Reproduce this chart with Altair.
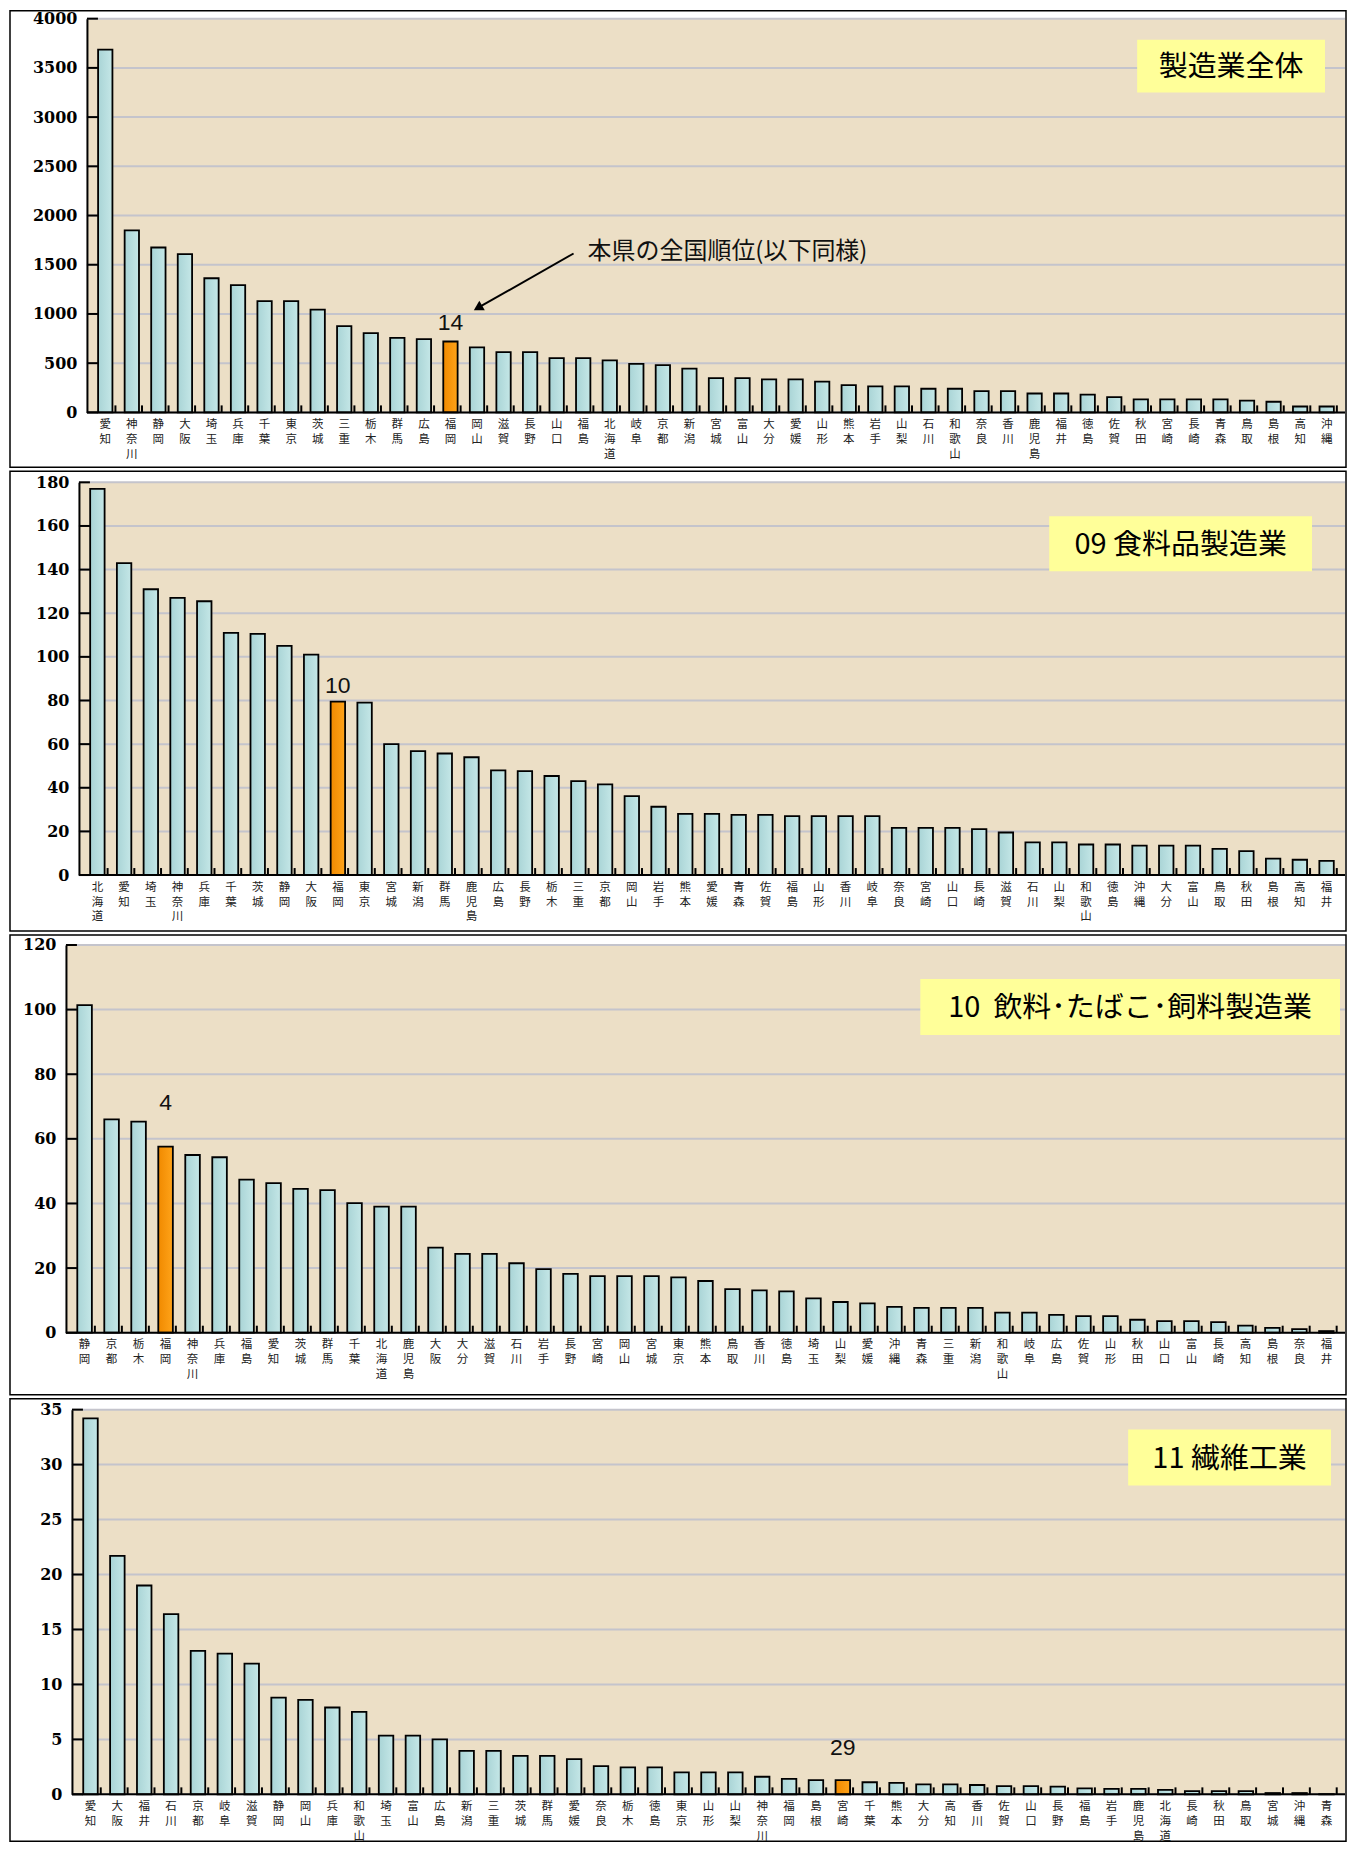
import altair as alt
import pandas as pd

# ---------------- data ----------------
prefs_all = ["愛知","神奈川","静岡","大阪","埼玉","兵庫","千葉","東京","茨城","三重","栃木","群馬","広島","福岡","岡山","滋賀","長野","山口","福島","北海道","岐阜","京都","新潟","宮城","富山","大分","愛媛","山形","熊本","岩手","山梨","石川","和歌山","奈良","香川","鹿児島","福井","徳島","佐賀","秋田","宮崎","長崎","青森","鳥取","島根","高知","沖縄"]
vals_all = [3685,1850,1675,1607,1363,1292,1130,1130,1045,877,805,757,745,720,660,612,612,552,552,528,492,480,444,348,348,336,336,312,276,264,264,240,240,216,216,192,192,180,156,132,132,132,132,120,108,60,60]
ticks_all = [0,500,1000,1500,2000,2500,3000,3500,4000]

prefs_food = ["北海道","愛知","埼玉","神奈川","兵庫","千葉","茨城","静岡","大阪","福岡","東京","宮城","新潟","群馬","鹿児島","広島","長野","栃木","三重","京都","岡山","岩手","熊本","愛媛","青森","佐賀","福島","山形","香川","岐阜","奈良","宮崎","山口","長崎","滋賀","石川","山梨","和歌山","徳島","沖縄","大分","富山","鳥取","秋田","島根","高知","福井"]
vals_food = [177,143,131,127,125.5,111,110.5,105,101,79.5,79,60,56.8,55.7,54,48,47.6,45.4,43,41.6,36.2,31.3,28,28,27.6,27.6,27,27,27,27,21.6,21.6,21.6,21,19.5,15,15,14,14,13.5,13.5,13.5,12,11,7.5,7,6.5]
ticks_food = [0,20,40,60,80,100,120,140,160,180]

prefs_bev = ["静岡","京都","栃木","福岡","神奈川","兵庫","福島","愛知","茨城","群馬","千葉","北海道","鹿児島","大阪","大分","滋賀","石川","岩手","長野","宮崎","岡山","宮城","東京","熊本","鳥取","香川","徳島","埼玉","山梨","愛媛","沖縄","青森","三重","新潟","和歌山","岐阜","広島","佐賀","山形","秋田","山口","富山","長崎","高知","島根","奈良","福井"]
vals_bev = [101.4,66,65.3,57.6,55,54.3,47.4,46.3,44.5,44.1,40.1,39,39,26.3,24.4,24.4,21.5,19.7,18.2,17.5,17.5,17.5,17.1,16,13.5,13.1,12.8,10.6,9.5,9.1,8,7.7,7.7,7.7,6.2,6.2,5.5,5.1,5.1,4,3.6,3.6,3.3,2.2,1.5,1.1,0.5]
ticks_bev = [0,20,40,60,80,100,120]

prefs_tex = ["愛知","大阪","福井","石川","京都","岐阜","滋賀","静岡","岡山","兵庫","和歌山","埼玉","富山","広島","新潟","三重","茨城","群馬","愛媛","奈良","栃木","徳島","東京","山形","山梨","神奈川","福岡","島根","宮崎","千葉","熊本","大分","高知","香川","佐賀","山口","長野","福島","岩手","鹿児島","北海道","長崎","秋田","鳥取","宮城","沖縄","青森"]
vals_tex = [34.2,21.7,19.0,16.4,13.05,12.8,11.9,8.8,8.6,7.9,7.5,5.35,5.35,5.0,3.96,3.96,3.5,3.5,3.2,2.57,2.46,2.46,2.0,2.0,2.0,1.6,1.4,1.3,1.3,1.1,1.05,0.9,0.9,0.85,0.75,0.75,0.7,0.55,0.5,0.5,0.4,0.3,0.3,0.3,0.12,0.12,0.02]
ticks_tex = [0,5,10,15,20,25,30,35]

titles = ["製造業全体", "09 食料品製造業", "10\u00a0\u00a0飲料･たばこ･飼料製造業", "11 繊維工業"]
highlights = ["福岡", "福岡", "福岡", "宮崎"]
note_text = "本県の全国順位(以下同様)"

# ---------------- styles / layout ----------------
BG = "#ecdfc6"
BAR = {"gradient": "linear", "x1": 0, "y1": 0, "x2": 1, "y2": 0,
       "stops": [{"offset": 0, "color": "#a9d4d6"}, {"offset": 1, "color": "#c5e7e7"}]}
HL = {"gradient": "linear", "x1": 0, "y1": 0, "x2": 1, "y2": 0,
      "stops": [{"offset": 0, "color": "#f08a00"}, {"offset": 1, "color": "#ffa319"}]}
GRID = "#c4c4cc"
JP = "Noto Sans CJK JP"

W = 1280          # common view width (view origin sits at page x ~65)
FX = -56          # frame left, relative to view origin
layouts = [
    dict(a=21, h=394, ft=8, fb=55, box=(1072, 1260, 21, 74), rdy=-19),
    dict(a=13, h=393, ft=11, fb=56, box=(984, 1247, 34, 89), rdy=-16),
    dict(a=0, h=388, ft=10, fb=62, box=(855, 1275, 34, 90), rdy=-44),
    dict(a=6, h=385, ft=11, fb=47, box=(1063, 1266, 20, 76), rdy=-32),
]


def one():
    return alt.Data(values=[{"k": 1}])


def panel(prefs, vals, ticks, hl, title, L, note=False):
    a, h = L["a"], L["h"]
    rank = prefs.index(hl) + 1
    df = pd.DataFrame({"pref": prefs, "val": vals})
    base = alt.Chart(df)

    xscale = alt.Scale(range=[a, W], paddingInner=0.46, paddingOuter=0.42)
    xax = alt.Axis(title=None, labelAngle=0, labelExpr="split(datum.label, '')",
                   labelFont=JP, labelFontSize=11.5, labelLineHeight=15,
                   labelBaseline="top", labelPadding=6, labelColor="#222",
                   labelOverlap=False, ticks=False, grid=False, domain=False, zindex=1)
    yscale = alt.Scale(domain=[0, ticks[-1]], nice=False)
    yax = alt.Axis(title=None, values=ticks, format="d", ticks=False, labelPadding=10,
                   labelFont="DejaVu Serif", labelFontWeight="bold", labelFontSize=16,
                   labelColor="black", domainColor="black", domainWidth=2,
                   grid=False, offset=-a, zindex=1)

    x = alt.X("pref:N", sort=prefs, scale=xscale, axis=xax)
    y = alt.Y("val:Q", scale=yscale, axis=yax)

    frame = alt.Chart(one()).mark_rect(fill="white", fillOpacity=0, stroke="black", strokeWidth=1.5).encode(
        x=alt.value(FX), x2=alt.value(W + 1), y=alt.value(-L["ft"]), y2=alt.value(h + L["fb"]))

    bg = alt.Chart(one()).mark_rect(fill=BG).encode(
        x=alt.value(a), x2=alt.value(W), y=alt.value(0), y2=alt.value(h))

    tdf = pd.DataFrame({"val": ticks})
    grid = alt.Chart(tdf).mark_rule(color=GRID, strokeWidth=2).encode(
        y=y, x=alt.value(a), x2=alt.value(W))

    bars = base.mark_bar(stroke="black", strokeWidth=1.8).encode(
        x=x, y=y,
        color=alt.condition(alt.datum.pref == hl, alt.value(HL), alt.value(BAR)))

    bticks = base.mark_rule(color="black", strokeWidth=2, xOffset=3).encode(
        x=alt.X("pref:N", sort=prefs, scale=xscale, axis=xax, bandPosition=1),
        y=alt.value(h), y2=alt.value(h - 7))

    yticks = alt.Chart(tdf).mark_rule(color="black", strokeWidth=2).encode(
        y=y, x=alt.value(a), x2=alt.value(a + 11))

    bottom = alt.Chart(one()).mark_rule(color="black", strokeWidth=2).encode(
        x=alt.value(a), x2=alt.value(W), y=alt.value(h))

    rtext = base.transform_filter(alt.datum.pref == hl).mark_text(
        font="Liberation Sans", fontSize=23, dy=L["rdy"], baseline="middle", color="#111").encode(
        x=x, y=y, text=alt.value(str(rank)))

    bx0, bx1, by0, by1 = L["box"]
    box = alt.Chart(one()).mark_rect(fill="#ffff99").encode(
        x=alt.value(bx0), x2=alt.value(bx1), y=alt.value(by0), y2=alt.value(by1))
    btext = alt.Chart(one()).mark_text(font=JP, fontSize=29, align="center", baseline="middle", color="black").encode(
        x=alt.value((bx0 + bx1) / 2), y=alt.value((by0 + by1) / 2 + 1), text=alt.value(title))

    layers = [frame, bg, grid, bars, bticks, yticks, bottom, rtext, box, btext]

    if note:
        ntext = alt.Chart(one()).mark_text(font=JP, fontSize=24, align="left", baseline="middle", color="#111").encode(
            x=alt.value(522), y=alt.value(234), text=alt.value(note_text))
        nline = alt.Chart(one()).mark_rule(color="black", strokeWidth=2).encode(
            x=alt.value(508), y=alt.value(235), x2=alt.value(413), y2=alt.value(289))
        nhead = alt.Chart(one()).mark_point(shape="triangle-up", filled=True, size=120, angle=240,
                                            color="black", opacity=1).encode(
            x=alt.value(412.3), y=alt.value(289.5))
        layers += [nline, nhead, ntext]

    return alt.layer(*layers).properties(width=W, height=h)


p1 = panel(prefs_all, vals_all, ticks_all, highlights[0], titles[0], layouts[0], note=True)
p2 = panel(prefs_food, vals_food, ticks_food, highlights[1], titles[1], layouts[1])
p3 = panel(prefs_bev, vals_bev, ticks_bev, highlights[2], titles[2], layouts[2])
p4 = panel(prefs_tex, vals_tex, ticks_tex, highlights[3], titles[3], layouts[3])

chart = alt.vconcat(p1, p2, p3, p4, spacing=0).properties(padding=0).configure_view(
    stroke="transparent")

chart.save("out.html", embed_options={"renderer": "svg", "actions": False})
